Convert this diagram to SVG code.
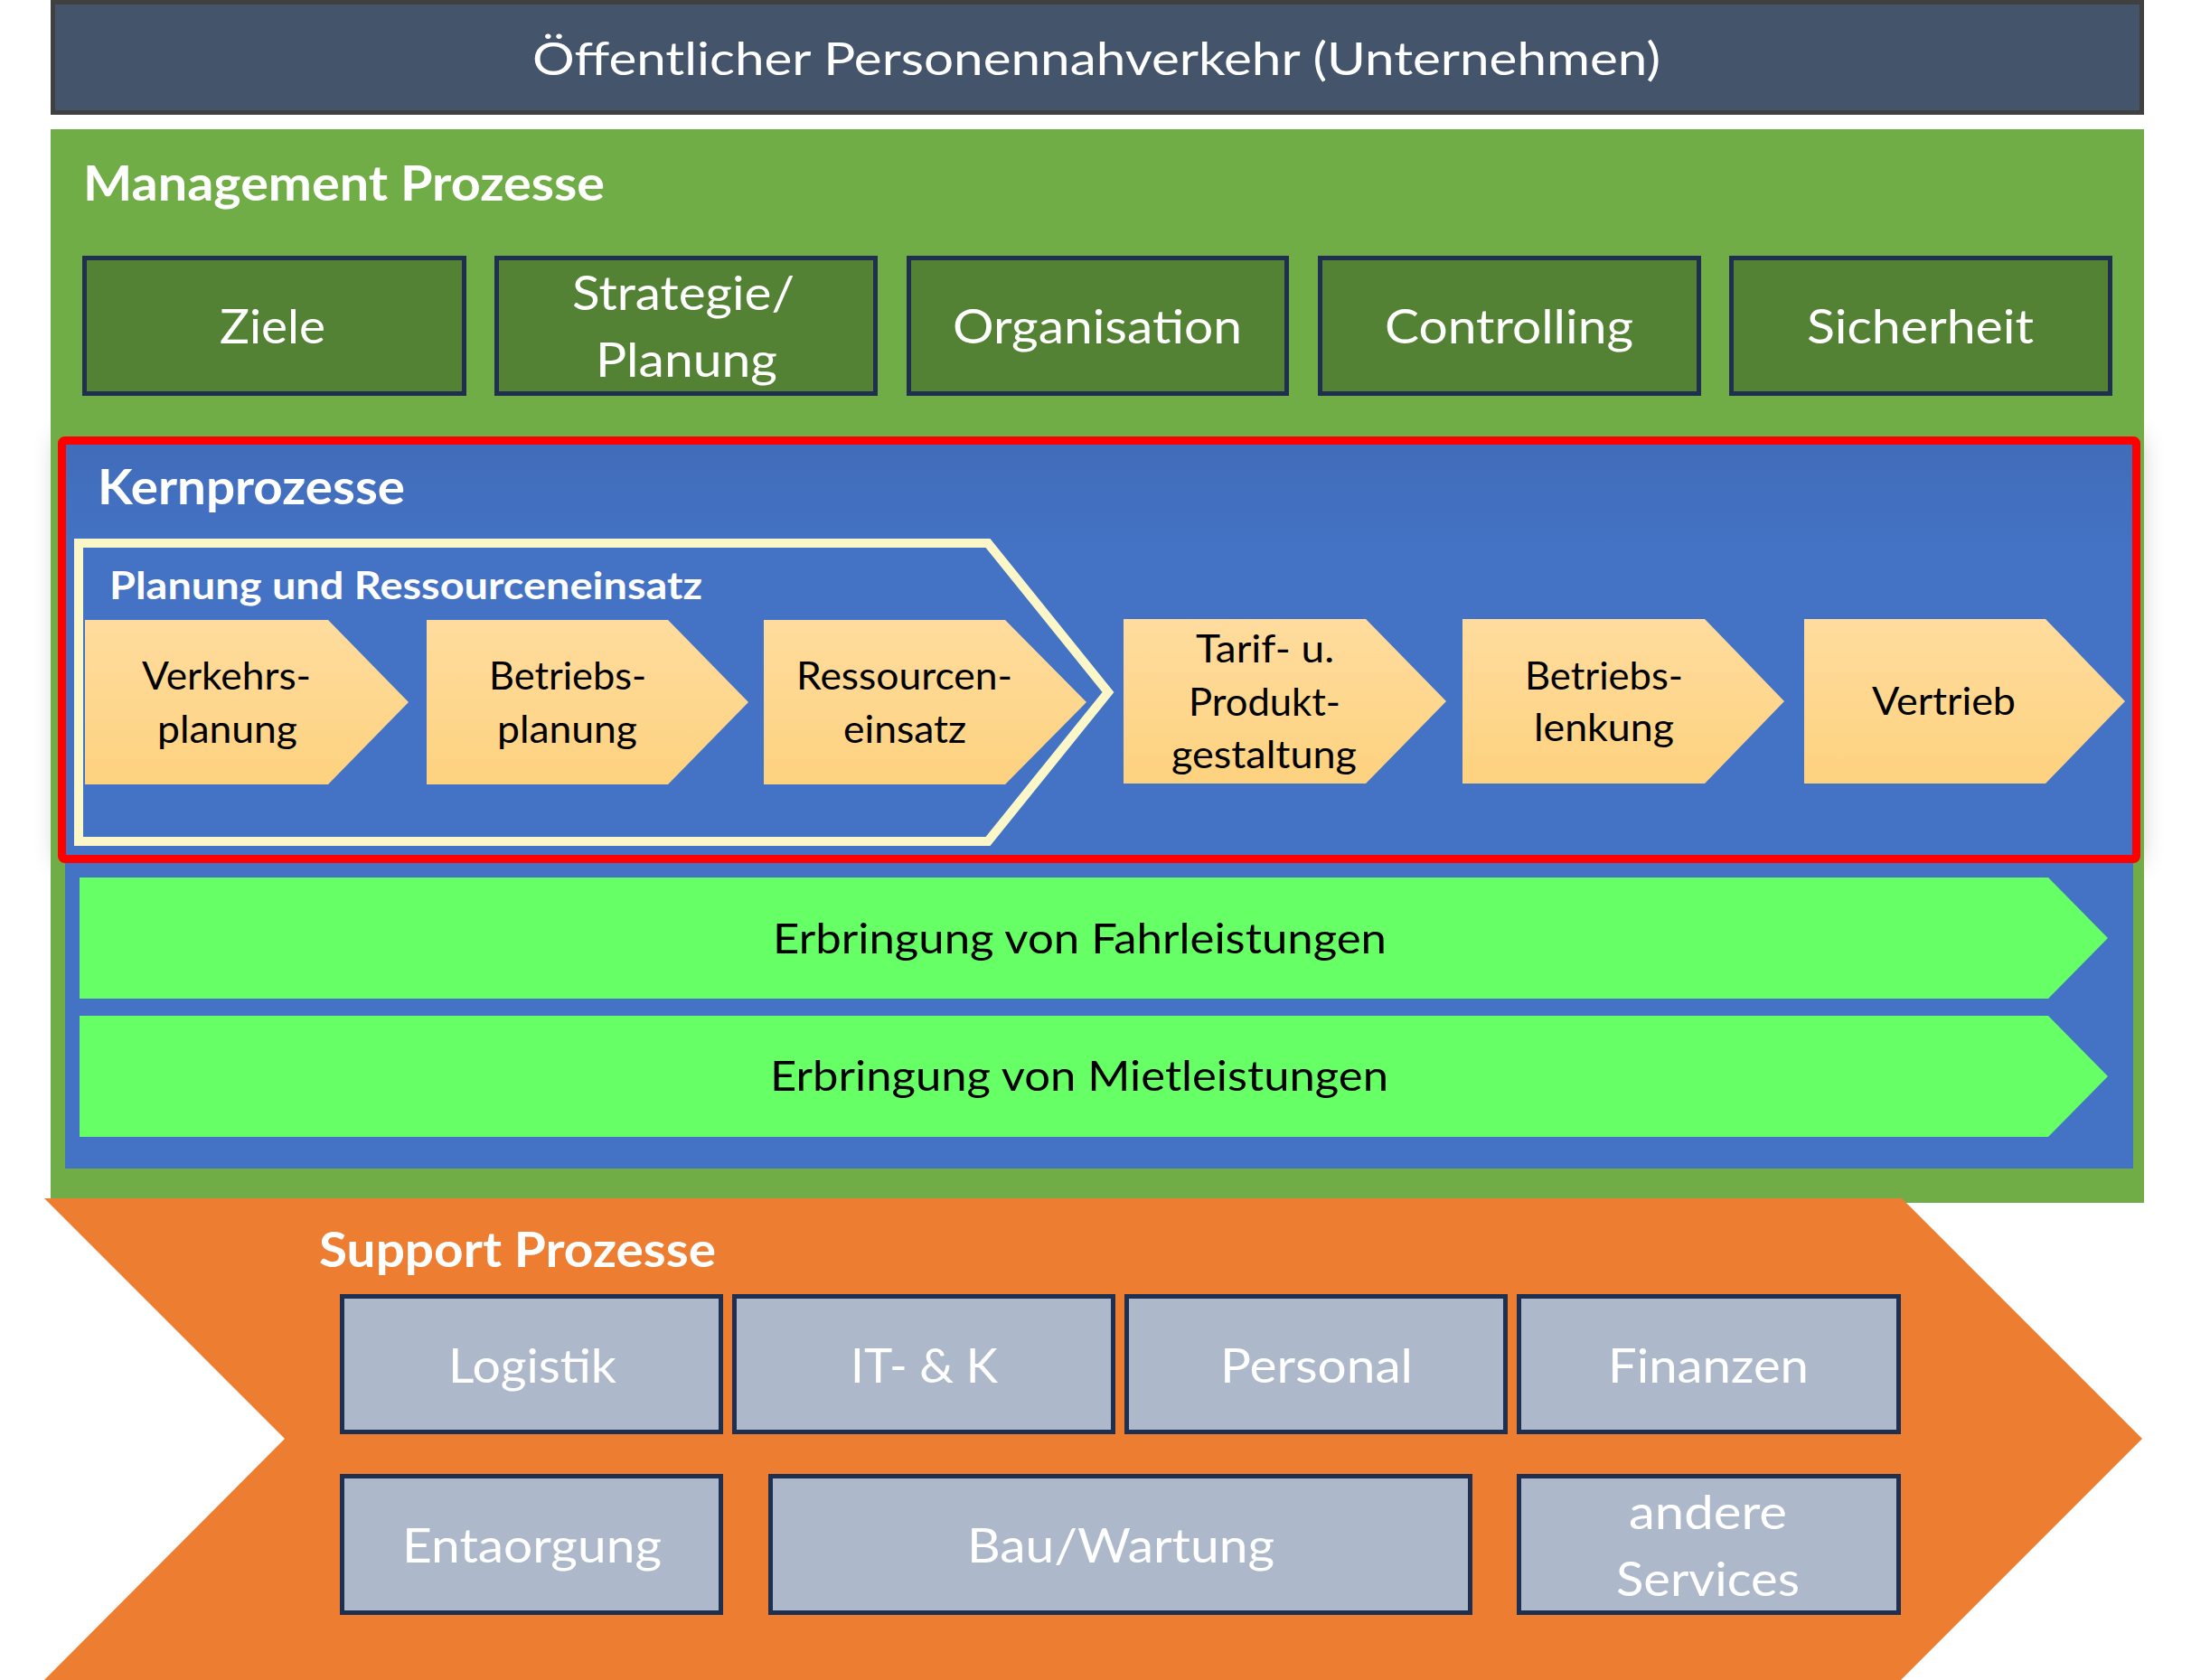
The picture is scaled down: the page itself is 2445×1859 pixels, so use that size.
<svg xmlns="http://www.w3.org/2000/svg" width="2445" height="1859" viewBox="0 0 2445 1859">
  <defs>
    <linearGradient id="gYellow" x1="0" y1="0" x2="0" y2="1">
      <stop offset="0" stop-color="#ffdc9e"/>
      <stop offset="1" stop-color="#fdd27f"/>
    </linearGradient>
    <linearGradient id="gBlue" x1="0" y1="0" x2="0" y2="1">
      <stop offset="0" stop-color="#406cb9"/>
      <stop offset="0.25" stop-color="#4472c4"/>
      <stop offset="1" stop-color="#4472c4"/>
    </linearGradient>
    <filter id="blur" x="-10%" y="-20%" width="120%" height="140%">
      <feGaussianBlur stdDeviation="14"/>
    </filter>
    <style>
      text { font-family: Lato, "Open Sans", "Liberation Sans", sans-serif; }
      .w { fill: #ffffff; }
      .k { fill: #000000; }
      .b { font-weight: bold; }
      .mbox { fill: #548235; stroke: #1f2f50; stroke-width: 5; }
      .sbox { fill: #adb9ca; stroke: #1f2f50; stroke-width: 5; }
      .chev { fill: url(#gYellow); }
      .garrow { fill: #66ff66; }
      .t42 { font-size: 42px; }
      .t46 { font-size: 46px; }
      .t50 { font-size: 50px; }
      .t53 { font-size: 53px; }
      .t54 { font-size: 54px; }
    </style>
  </defs>

  <rect x="0" y="0" width="2445" height="1859" fill="#ffffff"/>

  <!-- Header bar -->
  <g id="header">
    <rect x="58.5" y="2.5" width="2311" height="122" fill="#44546a" stroke="#404040" stroke-width="5"/>
    <text class="w t50" x="589" y="83" textLength="1248" lengthAdjust="spacingAndGlyphs">Öffentlicher Personennahverkehr (Unternehmen)</text>
  </g>

  <!-- shadow of Kernprozesse frame -->
  <rect x="64" y="483" width="2304" height="472" fill="#000000" opacity="0.22" filter="url(#blur)"/>

  <!-- Management panel -->
  <g id="management">
    <rect x="56" y="143" width="2316" height="1188" fill="#70ad47"/>
    <text class="w b t54" x="92" y="222" textLength="577" lengthAdjust="spacingAndGlyphs">Management Prozesse</text>
  </g>

  <g id="m-ziele">
    <rect class="mbox" x="93.5" y="285.5" width="420" height="150"/>
    <text class="w t53" x="243" y="380" textLength="117" lengthAdjust="spacingAndGlyphs">Ziele</text>
  </g>
  <g id="m-strategie">
    <rect class="mbox" x="549.5" y="285.5" width="419" height="150"/>
    <text class="w t53" x="633" y="343" textLength="246" lengthAdjust="spacingAndGlyphs">Strategie/</text>
    <text class="w t53" x="659" y="417" textLength="201" lengthAdjust="spacingAndGlyphs">Planung</text>
  </g>
  <g id="m-organisation">
    <rect class="mbox" x="1005.5" y="285.5" width="418" height="150"/>
    <text class="w t53" x="1054" y="380" textLength="320" lengthAdjust="spacingAndGlyphs">Organisation</text>
  </g>
  <g id="m-controlling">
    <rect class="mbox" x="1460.5" y="285.5" width="419" height="150"/>
    <text class="w t53" x="1532" y="380" textLength="275" lengthAdjust="spacingAndGlyphs">Controlling</text>
  </g>
  <g id="m-sicherheit">
    <rect class="mbox" x="1915.5" y="285.5" width="419" height="150"/>
    <text class="w t53" x="1999" y="380" textLength="251" lengthAdjust="spacingAndGlyphs">Sicherheit</text>
  </g>

  <!-- Kernprozesse -->
  <g id="kernprozesse">
    <rect x="72" y="487" width="2288" height="806" fill="#4472c4"/>
    <rect x="68.5" y="487.5" width="2295" height="463" rx="3" fill="url(#gBlue)" stroke="#ff0000" stroke-width="9"/>
    <text class="w b t53" x="108" y="558" textLength="340" lengthAdjust="spacingAndGlyphs">Kernprozesse</text>
  </g>

  <g id="planung-ressourceneinsatz">
    <polygon points="87,601 1093,601 1226,766 1093,931 87,931" fill="none" stroke="#fbf7c8" stroke-width="10"/>
    <text class="w b t42" x="121" y="663" textLength="656" lengthAdjust="spacingAndGlyphs">Planung und Ressourceneinsatz</text>
  </g>

  <g id="k-verkehrsplanung">
    <polygon class="chev" points="94,686 363,686 452,777 363,868 94,868"/>
    <text class="k t42" x="157" y="763" textLength="187" lengthAdjust="spacingAndGlyphs">Verkehrs-</text>
    <text class="k t42" x="174" y="822" textLength="155" lengthAdjust="spacingAndGlyphs">planung</text>
  </g>
  <g id="k-betriebsplanung">
    <polygon class="chev" points="472,686 739,686 828,777 739,868 472,868"/>
    <text class="k t42" x="541" y="763" textLength="174" lengthAdjust="spacingAndGlyphs">Betriebs-</text>
    <text class="k t42" x="550" y="822" textLength="155" lengthAdjust="spacingAndGlyphs">planung</text>
  </g>
  <g id="k-ressourceneinsatz">
    <polygon class="chev" points="845,686 1112,686 1202,777 1112,868 845,868"/>
    <text class="k t42" x="881" y="763" textLength="239" lengthAdjust="spacingAndGlyphs">Ressourcen-</text>
    <text class="k t42" x="933" y="822" textLength="136" lengthAdjust="spacingAndGlyphs">einsatz</text>
  </g>
  <g id="k-tarif">
    <polygon class="chev" points="1243,685 1511,685 1600,776 1511,867 1243,867"/>
    <text class="k t42" x="1323" y="733" textLength="153" lengthAdjust="spacingAndGlyphs">Tarif- u.</text>
    <text class="k t42" x="1315" y="792" textLength="168" lengthAdjust="spacingAndGlyphs">Produkt-</text>
    <text class="k t42" x="1296" y="850" textLength="205" lengthAdjust="spacingAndGlyphs">gestaltung</text>
  </g>
  <g id="k-betriebslenkung">
    <polygon class="chev" points="1618,685 1886,685 1974,776 1886,867 1618,867"/>
    <text class="k t42" x="1687" y="763" textLength="175" lengthAdjust="spacingAndGlyphs">Betriebs-</text>
    <text class="k t42" x="1697" y="820" textLength="155" lengthAdjust="spacingAndGlyphs">lenkung</text>
  </g>
  <g id="k-vertrieb">
    <polygon class="chev" points="1996,685 2263,685 2351,776 2263,867 1996,867"/>
    <text class="k t42" x="2071" y="791" textLength="159" lengthAdjust="spacingAndGlyphs">Vertrieb</text>
  </g>

  <g id="k-fahrleistungen">
    <polygon class="garrow" points="88,971 2266,971 2332,1038 2266,1105 88,1105"/>
    <text class="k t46" x="855" y="1055" textLength="679" lengthAdjust="spacingAndGlyphs">Erbringung von Fahrleistungen</text>
  </g>
  <g id="k-mietleistungen">
    <polygon class="garrow" points="88,1124 2266,1124 2332,1191 2266,1258 88,1258"/>
    <text class="k t46" x="852" y="1207" textLength="684" lengthAdjust="spacingAndGlyphs">Erbringung von Mietleistungen</text>
  </g>

  <!-- Support -->
  <g id="support">
    <polygon points="49,1326 2104,1326 2370,1592 2103,1859 49,1859 315,1592" fill="#ed7d31"/>
    <text class="w b t54" x="353" y="1402" textLength="439" lengthAdjust="spacingAndGlyphs">Support Prozesse</text>
  </g>
  <g id="s-logistik">
    <rect class="sbox" x="378.5" y="1434.5" width="419" height="150"/>
    <text class="w t53" x="496" y="1530" textLength="186" lengthAdjust="spacingAndGlyphs">Logistik</text>
  </g>
  <g id="s-itk">
    <rect class="sbox" x="812.5" y="1434.5" width="419" height="150"/>
    <text class="w t53" x="941" y="1530" textLength="163" lengthAdjust="spacingAndGlyphs">IT- &amp; K</text>
  </g>
  <g id="s-personal">
    <rect class="sbox" x="1246.5" y="1434.5" width="419" height="150"/>
    <text class="w t53" x="1350" y="1530" textLength="213" lengthAdjust="spacingAndGlyphs">Personal</text>
  </g>
  <g id="s-finanzen">
    <rect class="sbox" x="1680.5" y="1434.5" width="420" height="150"/>
    <text class="w t53" x="1779" y="1530" textLength="222" lengthAdjust="spacingAndGlyphs">Finanzen</text>
  </g>
  <g id="s-entsorgung">
    <rect class="sbox" x="378.5" y="1633.5" width="419" height="151"/>
    <text class="w t53" x="445" y="1729" textLength="287" lengthAdjust="spacingAndGlyphs">Entaorgung</text>
  </g>
  <g id="s-bauwartung">
    <rect class="sbox" x="852.5" y="1633.5" width="774" height="151"/>
    <text class="w t53" x="1070" y="1729" textLength="340" lengthAdjust="spacingAndGlyphs">Bau/Wartung</text>
  </g>
  <g id="s-andere">
    <rect class="sbox" x="1680.5" y="1633.5" width="420" height="151"/>
    <text class="w t53" x="1802" y="1692" textLength="175" lengthAdjust="spacingAndGlyphs">andere</text>
    <text class="w t53" x="1788" y="1766" textLength="203" lengthAdjust="spacingAndGlyphs">Services</text>
  </g>
</svg>
